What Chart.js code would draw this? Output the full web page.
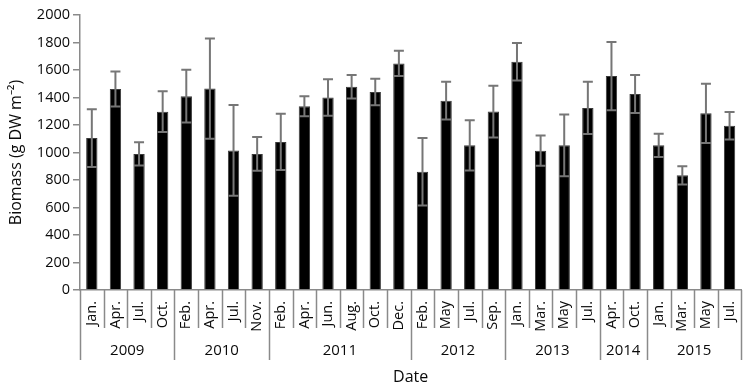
<!DOCTYPE html>
<html>
<head>
<meta charset="utf-8">
<script src="https://cdn.jsdelivr.net/npm/chart.js@4.4.1/dist/chart.umd.min.js"></script>
<style>
  html, body { margin: 0; padding: 0; background: #fff; }
  canvas { display: block; }
</style>
</head>
<body>
<canvas id="biomassChart" width="750" height="390"></canvas>
<script>
// Biomass by sampling date, 2009-2015, with error bars

const months = ['Jan.', 'Apr.', 'Jul.', 'Oct.',
  'Feb.', 'Apr.', 'Jul.', 'Nov.',
  'Feb.', 'Apr.', 'Jun.', 'Aug.', 'Oct.', 'Dec.',
  'Feb.', 'May', 'Jul.', 'Sep.',
  'Jan.', 'Mar.', 'May', 'Jul.',
  'Apr.', 'Oct.',
  'Jan.', 'Mar.', 'May', 'Jul.'];
const yearLabels = ['2009', '2010', '2011', '2012', '2013', '2014', '2015'];
const yearCounts = [4, 4, 6, 4, 4, 2, 4];
const biomass = [1105, 1462, 990, 1297,
  1410, 1465, 1015, 990,
  1077, 1336, 1400, 1478, 1440, 1648,
  860, 1377, 1052, 1298,
  1660, 1013, 1052, 1324,
  1556, 1426,
  1052, 834, 1285, 1195];
const errors = [210, 128, 84, 148,
  192, 365, 330, 123,
  205, 73, 132, 85, 96, 92,
  245, 137, 182, 188,
  136, 110, 225, 190,
  248, 138,
  85, 66, 215, 100];
const yTicks = [0, 200, 400, 600, 800, 1000, 1200, 1400, 1600, 1800, 2000];

const FONT = 'Open Sans';
const AXIS_GRAY = '#8a8a8a';
const TEXT = '#0a0a0a';

// error bars drawn through the scales
const errorBars = {
  id: 'errorBars',
  afterDatasetsDraw(chart) {
    const { ctx, scales: { y } } = chart;
    const meta = chart.getDatasetMeta(0);
    ctx.save();
    ctx.strokeStyle = '#767676';
    ctx.lineWidth = 2;
    meta.data.forEach((bar, i) => {
      const hi = y.getPixelForValue(biomass[i] + errors[i]);
      const lo = y.getPixelForValue(biomass[i] - errors[i]);
      ctx.beginPath();
      ctx.moveTo(bar.x, hi); ctx.lineTo(bar.x, lo);
      ctx.moveTo(bar.x - 5, hi); ctx.lineTo(bar.x + 5, hi);
      ctx.moveTo(bar.x - 5, lo); ctx.lineTo(bar.x + 5, lo);
      ctx.stroke();
    });
    ctx.restore();
  }
};

// month separators + year row under the x axis
const yearRow = {
  id: 'yearRow',
  afterDraw(chart) {
    const { ctx, scales: { x } } = chart;
    const half = (x.getPixelForValue(1) - x.getPixelForValue(0)) / 2;
    const edge = i => x.getPixelForValue(i) - half;
    const top = x.top;
    const yearStarts = [0];
    yearCounts.forEach((c, k) => yearStarts.push(yearStarts[k] + c));

    ctx.save();
    ctx.strokeStyle = AXIS_GRAY;
    ctx.lineWidth = 1.5;
    for (let i = 0; i <= months.length; i++) {
      const px = Math.round(edge(i)) + 0.5;
      const long = yearStarts.includes(i);
      ctx.beginPath();
      ctx.moveTo(px, top);
      ctx.lineTo(px, top + (long ? 70 : 38));
      ctx.stroke();
    }
    ctx.fillStyle = TEXT;
    ctx.font = '15px "' + FONT + '"';
    ctx.textAlign = 'center';
    ctx.textBaseline = 'middle';
    yearLabels.forEach((label, k) => {
      const cx = (edge(yearStarts[k]) + edge(yearStarts[k + 1])) / 2;
      ctx.fillText(label, cx, top + 61);
    });
    ctx.restore();
  }
};

new Chart(document.getElementById('biomassChart'), {
  type: 'bar',
  data: {
    labels: months,
    datasets: [{
      data: biomass,
      backgroundColor: '#000',
      borderColor: '#3a3a3a',
      borderWidth: 1,
      categoryPercentage: 1,
      barPercentage: 0.48,
    }],
  },
  options: {
    responsive: false,
    animation: false,
    devicePixelRatio: 1,
    layout: { padding: { top: 15, right: 2, left: 0, bottom: 0 } },
    plugins: { legend: { display: false }, tooltip: { enabled: false } },
    scales: {
      x: {
        grid: { display: false },
        border: { display: true, color: AXIS_GRAY, width: 1.5 },
        ticks: {
          color: TEXT, font: { family: FONT, size: 14.5 },
          minRotation: 90, maxRotation: 90, autoSkip: false, padding: 3,
        },
        title: {
          display: true, text: 'Date', color: TEXT,
          font: { family: FONT, size: 16 }, padding: { top: 0, bottom: 3 },
        },
        afterFit(scale) { scale.height = 100; },
      },
      y: {
        min: 0, max: 2000,
        afterBuildTicks(scale) { scale.ticks = yTicks.map(v => ({ value: v })); },
        grid: { drawOnChartArea: false, tickLength: 7, color: AXIS_GRAY, lineWidth: 1.5 },
        border: { display: true, color: AXIS_GRAY, width: 1.5 },
        ticks: {
          color: TEXT, font: { family: FONT, size: 14.5 }, padding: 3,
          callback: v => String(v),
        },
        title: {
          display: true, text: 'Biomass (g DW m⁻²)', color: TEXT,
          font: { family: FONT, size: 16 }, padding: { top: 7, bottom: 0 },
        },
        afterFit(scale) { scale.width = 80; },
      },
    },
  },
  plugins: [errorBars, yearRow],
});
</script>
</body>
</html>
